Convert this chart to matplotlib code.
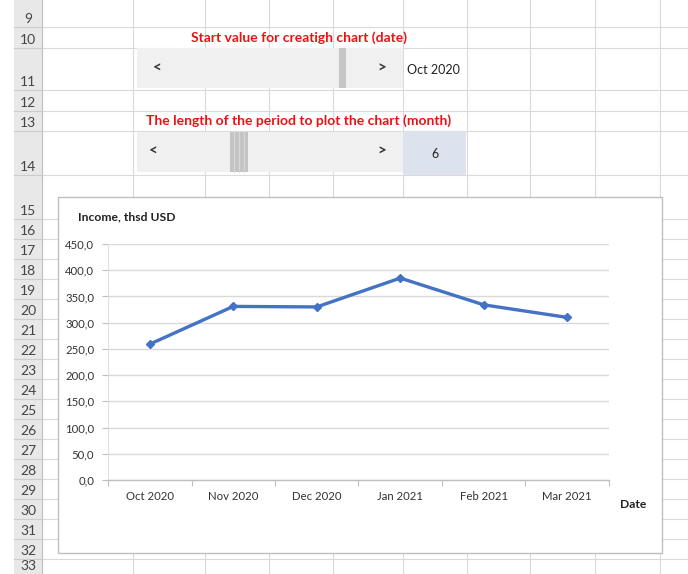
import matplotlib.pyplot as plt
from matplotlib.patches import Rectangle

# Data
months = ['Oct 2020', 'Nov 2020', 'Dec 2020', 'Jan 2021', 'Feb 2021', 'Mar 2021']
income = [259, 331, 330, 385, 334, 310]
y_ticks = [0, 50, 100, 150, 200, 250, 300, 350, 400, 450]
y_tick_labels = ['0,0', '50,0', '100,0', '150,0', '200,0', '250,0',
                 '300,0', '350,0', '400,0', '450,0']

# Spreadsheet layout (pixels)
row_numbers = [9, 10, 11, 12, 13, 14, 15] + list(range(16, 34))
row_edges = [0, 27, 48, 90, 111, 131, 175, 219] + [219 + 20 * i for i in range(1, 19)]
col_edges = [42, 133, 205, 269, 333, 403, 467, 530, 595, 660]

plt.rcParams['font.family'] = ['Lato', 'DejaVu Sans']

W, H = 688, 574
fig = plt.figure(figsize=(W / 100, H / 100), dpi=100)
fig.patch.set_facecolor('white')

# Background sheet in pixel coordinates
bg = fig.add_axes([0, 0, 1, 1])
bg.set_xlim(0, W)
bg.set_ylim(H, 0)
bg.axis('off')

grid_c = '#dadada'
for x in col_edges:
    bg.plot([x, x], [0, H], color=grid_c, lw=0.8, zorder=1)
for y in row_edges[1:]:
    bg.plot([42, W], [y, y], color=grid_c, lw=0.8, zorder=1)

# Row header column
bg.add_patch(Rectangle((14, 0), 28, H, facecolor='#e8e8e8', edgecolor='none', zorder=2))
bg.plot([42, 42], [0, H], color='#c0c0c0', lw=0.8, zorder=3)
for y in row_edges[1:]:
    bg.plot([14, 42], [y, y], color='#cccccc', lw=0.8, zorder=3)
for i, n in enumerate(row_numbers):
    edge = row_edges[i + 1]
    if edge < H:
        bg.text(28, edge - 2, str(n), ha='center', va='bottom',
                fontsize=10, color='#444444', zorder=4)
    else:
        bg.text(28, 566, str(n), ha='center', va='center',
                fontsize=10, color='#444444', zorder=4)

# Scroll bar 1
bg.text(299, 38, 'Start value for creatigh chart (date)', ha='center', va='center',
        fontsize=10, fontweight='bold', color='#ee1111', zorder=4)
bg.add_patch(Rectangle((137, 48), 266, 40, facecolor='#f0f0f0', edgecolor='none', zorder=3))
bg.add_patch(Rectangle((339, 48), 7, 40, facecolor='#c6c6c6', edgecolor='none', zorder=4))
bg.text(157, 69, '<', ha='center', va='center', fontsize=11, fontweight='bold',
        color='#333333', zorder=5)
bg.text(382, 69, '>', ha='center', va='center', fontsize=11, fontweight='bold',
        color='#333333', zorder=5)
bg.add_patch(Rectangle((404, 49), 62, 40, facecolor='white', edgecolor='none', zorder=3))
bg.text(407, 70, 'Oct 2020', ha='left', va='center', fontsize=9, color='#222222', zorder=5)

# Scroll bar 2
bg.text(299, 121, 'The length of the period to plot the chart (month)', ha='center',
        va='center', fontsize=10, fontweight='bold', color='#ee1111', zorder=4)
bg.add_patch(Rectangle((137, 132), 266, 40, facecolor='#f0f0f0', edgecolor='none', zorder=3))
bg.add_patch(Rectangle((230, 132), 18, 40, facecolor='#c4c4c4', edgecolor='none', zorder=4))
for sx in [234, 239, 244]:
    bg.plot([sx, sx], [132, 172], color='#d8d8d8', lw=0.8, zorder=5)
bg.text(153, 152, '<', ha='center', va='center', fontsize=11, fontweight='bold',
        color='#333333', zorder=5)
bg.text(382, 152, '>', ha='center', va='center', fontsize=11, fontweight='bold',
        color='#333333', zorder=5)
bg.add_patch(Rectangle((403, 131), 63, 44, facecolor='#dce3ef', edgecolor='none', zorder=3))
bg.text(435, 154, '6', ha='center', va='center', fontsize=9, color='#222222', zorder=5)

# Chart area box
bg.add_patch(Rectangle((58, 197), 604, 356, facecolor='white', edgecolor='#bfbfbf',
                       lw=1, zorder=6))
bg.text(78, 217, 'Income, thsd USD', ha='left', va='center', fontsize=8.7,
        fontweight='bold', color='#222222', zorder=7)
bg.text(620, 505, 'Date', ha='left', va='center', fontsize=8.7,
        fontweight='bold', color='#222222', zorder=7)

# Plot area
ax = fig.add_axes([108 / W, 1 - 480 / H, 501 / W, 236 / H], zorder=10)
ax.patch.set_alpha(0)
x = list(range(len(months)))
ax.plot(x, income, color='#4472C4', lw=2.4, marker='D', markersize=4.5,
        markerfacecolor='#4472C4', markeredgecolor='#4472C4', zorder=3)

ax.set_xlim(-0.5, len(months) - 0.5)
ax.set_ylim(0, 450)
ax.set_yticks(y_ticks)
ax.set_yticklabels(y_tick_labels)
ax.grid(axis='y', color='#d9d9d9', lw=1)
ax.set_axisbelow(True)

ax.set_xticks([i - 0.5 for i in range(len(months) + 1)])
ax.set_xticklabels([])
ax.set_xticks(x, minor=True)
ax.set_xticklabels(months, minor=True)
ax.tick_params(axis='x', which='major', direction='out', length=4, color='#bfbfbf')
ax.tick_params(axis='x', which='minor', length=0, pad=8, labelsize=8.2, labelcolor='#333333')
ax.tick_params(axis='y', direction='out', length=4, color='#bfbfbf', width=0.8,
               labelsize=8.2, labelcolor='#333333', pad=6)

for side in ['top', 'right']:
    ax.spines[side].set_visible(False)
ax.spines['left'].set_color('#e0e0e0')
ax.spines['left'].set_linewidth(0.8)
ax.spines['bottom'].set_color('#bfbfbf')
ax.spines['bottom'].set_linewidth(1)

fig.savefig('out.png', dpi=100)
